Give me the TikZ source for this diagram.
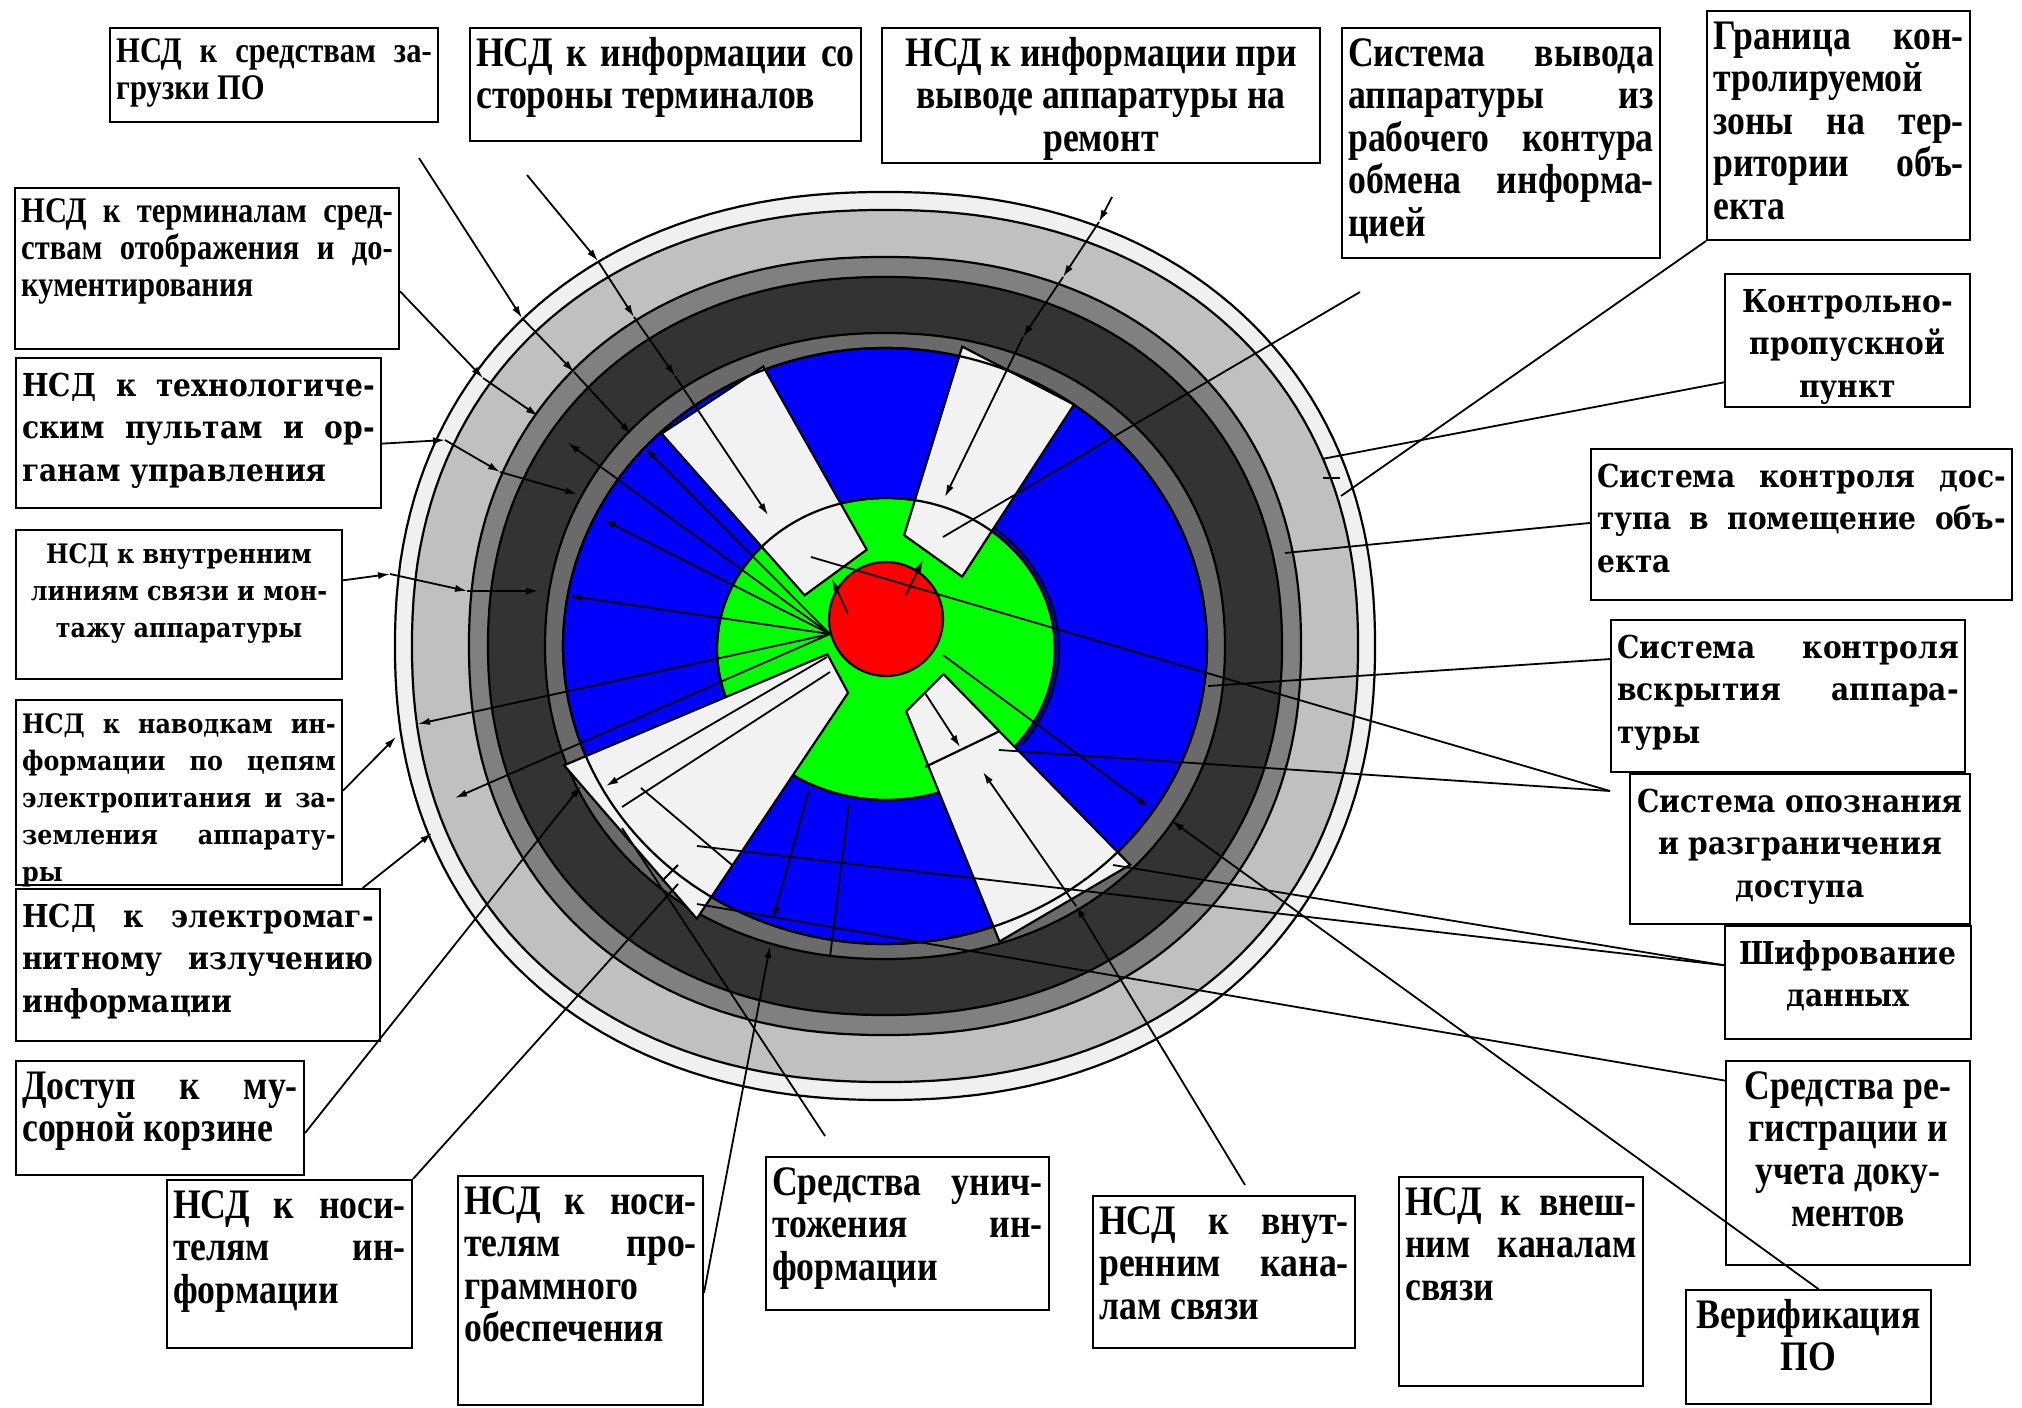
\documentclass[tikz,border=0pt]{standalone}
\usepackage{fontspec}
\setmainfont{Liberation Serif}
\newfontfamily\narrowfont{Liberation Serif}[FakeStretch=0.85]
\newfontfamily\widefont{DejaVu Serif}[FakeStretch=0.89]
\usetikzlibrary{arrows.meta,calc}
\definecolor{ringpale}{RGB}{240,240,240}
\definecolor{ringlight}{RGB}{192,192,192}
\definecolor{ringmid}{RGB}{128,128,128}
\definecolor{ringdark}{RGB}{51,51,51}
\definecolor{ringinner}{RGB}{106,106,106}
\definecolor{zoneblue}{RGB}{0,0,255}
\definecolor{zonegreen}{RGB}{0,255,0}
\definecolor{corered}{RGB}{255,0,0}
\definecolor{sectorfill}{RGB}{242,242,242}

% text sizes: narrow (Times-like) and wide serif
\newcommand{\nbig}{\narrowfont\bfseries\fontsize{21}{21.3}\selectfont}
\newcommand{\nsmall}{\narrowfont\bfseries\fontsize{18}{18.5}\selectfont}
\newcommand{\wbig}{\widefont\bfseries\fontsize{15.8}{21.3}\selectfont}
\newcommand{\wsmall}{\widefont\bfseries\fontsize{13.4}{18.4}\selectfont}
% one justified line, one centred line
\newcommand{\jl}[1]{\makebox[\linewidth][s]{#1}\\}
\newcommand{\cl}[1]{\makebox[\linewidth]{#1}\\}
% caption box: name, top-left corner, inner width, inner height, font, text
\newcommand{\infobox}[6]{\node[box] (#1) at (#2) {\parbox[c][#4][t]{#3}{#5\strut#6}};}
% closed ring outline: rx, ry, exponent, options
\newcommand{\ring}[4]{%
  \draw[ringline,#4] plot[domain=1:361, samples=181, variable=\t]
    ({885+#1*sign(cos(\t))*abs(cos(\t))^#3},
     {646+#2*sign(sin(\t))*abs(sin(\t))^#3}) -- cycle;}

\begin{document}
\begin{tikzpicture}[
  x=0.5pt, y=-0.5pt,
  box/.style={draw, line width=1.2pt, fill=white, anchor=north west,
              inner xsep=3pt, inner ysep=4pt},
  ringline/.style={draw=black, line width=1.1pt},
  sector/.style={ringline, fill=sectorfill},
  ar/.style={line width=0.9pt, -{Latex[length=6pt,width=3.6pt]}},
  ln/.style={line width=0.9pt}
]
\useasboundingbox (0,0) rectangle (2022,1407);

% rings, outside in
\ring{490}{454}{0.909}{fill=ringpale}
\ring{473}{436}{0.909}{fill=ringlight}
\ring{416}{389}{0.909}{fill=ringmid}
\ring{397}{369}{0.93}{fill=ringdark}
\ring{340}{313}{0.95}{fill=ringinner}
\ring{322}{298}{1}{fill=zoneblue}

% green zone and sectors
\filldraw[ringline, fill=zonegreen] (886,649) ellipse [x radius=169, y radius=151];
\filldraw[sector] (661.6,433.6) -- (763.2,366.5) -- (866.8,549.7) -- (804.6,595.3) -- cycle;
\filldraw[sector] (962.2,346.6) -- (1074.1,404.6) -- (962.2,576.7) -- (904.1,535.2) -- cycle;
\draw[ringline] (886,649) ellipse [x radius=169, y radius=151];
\draw[ringline] plot[domain=-51:38, samples=30, variable=\t] ({886+173*cos(\t)},{649+155*sin(\t)});
\filldraw[sector] (827.4,654.2) -- (848.1,692.8) -- (696.8,918.7) -- (564.1,765.3) -- cycle;
\filldraw[sector] (943.5,674.1) -- (1130.1,864.8) -- (999.5,941.5) -- (906.2,711.4) -- cycle;
\ring{322}{298}{1}{}
\draw[ringline] (925,767) -- (1000,731);
% core
\filldraw[ringline, fill=corered] (886,619) circle [radius=57];

% captions
\infobox{zagr}{109,27}{157.8pt}{38.8pt}{\nsmall}{\jl{НСД к средствам за-}грузки ПО}
\infobox{term}{469,27}{189.3pt}{48.3pt}{\nbig}{\jl{НСД к информации со}стороны терминалов}
\infobox{remont}{881,27}{212.8pt}{59.3pt}{\nbig\centering}{НСД к информации при\\выводе аппаратуры на\\ремонт}
\infobox{vyvod}{1341,27}{152.8pt}{106.8pt}{\nbig}{\jl{Система вывода}\jl{аппаратуры из}\jl{рабочего контура}\jl{обмена информа-}цией}
\infobox{granica}{1706,10}{125.3pt}{106.3pt}{\nbig}{\jl{Граница кон-}тролируемой\\\jl{зоны на тер-}\jl{ритории объ-}екта}
\infobox{kpp}{1724,273}{116.3pt}{58.3pt}{\wbig\centering}{Контрольно-\\пропускной\\пункт}
\infobox{dostup}{1590,448}{204.3pt}{67.3pt}{\wbig}{\jl{Система контроля дос-}\jl{тупа в помещение объ-}екта}
\infobox{vskr}{1610,619}{170.8pt}{67.8pt}{\wbig}{\jl{Система контроля}\jl{вскрытия аппара-}туры}
\infobox{opozn}{1629,773}{163.8pt}{66.8pt}{\wbig}{\cl{Система опознания}\cl{и разграничения}\cl{доступа}}
\infobox{shifr}{1724,925}{116.8pt}{48.3pt}{\wbig\centering}{Шифрование\\данных}
\infobox{regist}{1725,1060}{115.8pt}{93.8pt}{\nbig\centering}{Средства ре-\\гистрации и\\учета доку-\\ментов}
\infobox{verif}{1685,1289}{116.3pt}{48.8pt}{\nbig\centering}{Верификация\\ПО}
\infobox{vnesh}{1398,1176}{115.8pt}{96.3pt}{\nbig}{\jl{НСД к внеш-}\jl{ним каналам}связи}
\infobox{vnutk}{1092,1195}{124.8pt}{67.8pt}{\nbig}{\jl{НСД к внут-}\jl{ренним кана-}лам связи}
\infobox{unich}{765,1156}{135.3pt}{68.3pt}{\nbig}{\jl{Средства унич-}\jl{тожения ин-}формации}
\infobox{nospo}{457,1175}{116.3pt}{106.3pt}{\nbig}{\jl{НСД к носи-}\jl{телям про-}граммного\\обеспечения}
\infobox{nosinf}{166,1179}{116.3pt}{75.8pt}{\nbig}{\jl{НСД к носи-}\jl{телям ин-}формации}
\infobox{musor}{15,1060}{137.8pt}{48.8pt}{\nbig}{\jl{Доступ к му-}сорной корзине}
\infobox{navod}{15,699}{156.8pt}{84.3pt}{\wsmall}{\jl{НСД к наводкам ин-}\jl{формации по цепям}\jl{электропитания и за-}\jl{земления аппарату-}ры}
\infobox{emi}{15,888}{175.8pt}{67.8pt}{\wbig}{\jl{НСД к электромаг-}\jl{нитному излучению}информации}
\infobox{linii}{15,529}{156.8pt}{66.3pt}{\wsmall}{\cl{НСД к внутренним}\cl{линиям связи и мон-}\cl{тажу аппаратуры}}
\infobox{pult}{15,357}{176.3pt}{66.8pt}{\wbig}{\jl{НСД к технологиче-}\jl{ским пультам и ор-}ганам управления}
\infobox{otobr}{14,187}{185.8pt}{72.3pt}{\nsmall}{\jl{НСД к терминалам сред-}\jl{ствам отображения и до-}кументирования}

% free ends of the connectors
\coordinate (hub) at (830,634);
\coordinate (c1) at (419,158);
\coordinate (c2) at (527,175);
\coordinate (c3) at (1112,197);
\coordinate (c4) at (1360,292);
\coordinate (c9) at (1610,791);
\coordinate (c14) at (1245,1185);
\coordinate (c15) at (825,1136);

% arrows from the core outwards
\foreach \p in {(645,448),(568,443),(604,520),(570,596),(418,724),(455,798)}
  \draw[ar] (hub) -- \p;
\draw[ar] (848,614) -- (832,579);
\draw[ar] (906,595) -- (923,560);
\draw[ar] (925,693) -- (960,747);
\draw[ar] (809,790) -- (773,919);
\draw[ar] (943,655) -- (1149,807);
\draw[ar] (827,657) -- (606,786);
\draw[ln] (849,804) -- (830,957);
\draw[ln] (830,672) -- (622,807);
\draw[ln] (641,788) -- (732,865);

% threats from the left and top, arrowhead at every layer
\draw[ar] (c1) -- (522,318);
\draw[ar] (522,318) -- (574,372);
\draw[ar] (574,372) -- (631,434);
\draw[ar] (c2) -- (598,261);
\draw[ar] (598,261) -- (634,317);
\draw[ar] (634,317) -- (675,376);
\draw[ar] (675,376) -- (768,515);
\draw[ar] (c3) -- (1099,222);
\draw[ar] (1099,222) -- (1063,277);
\draw[ar] (1063,277) -- (1023,337);
\draw[ar] (1023,337) -- (945,497);
\draw[ar] ($(otobr.north east)!0.64!(otobr.south east)$) -- (483,378);
\draw[ar] (483,378) -- (538,416);
\draw[ar] ($(pult.north east)!0.57!(pult.south east)$) -- (445,440);
\draw[ar] (445,440) -- (500,472);
\draw[ar] (500,472) -- (577,494);
\draw[ar] ($(linii.north east)!0.34!(linii.south east)$) -- (390,574);
\draw[ar] (390,574) -- (467,591);
\draw[ar] (467,591) -- (538,591);
\draw[ar] ($(navod.north east)!0.49!(navod.south east)$) -- (396,737);
\draw[ar] ($(emi.north west)!0.95!(emi.north east)$) -- (432,833);
\draw[ar] ($(musor.north east)!0.63!(musor.south east)$) -- (581,786);
\draw[ln] (nosinf.north east) -- (678,884);
\draw[ln] (662,881) -- (678,865);
\draw[ar] ($(nospo.north east)!0.51!(nospo.south east)$) -- (770,946);
\draw[ln] (c15) -- (622,828);
\draw[ar] (c14) -- (1076,906);
\draw[ar] (1076,906) -- (983,772);

% protection means on the right
\draw[ln] (c4) -- (943,537);
\draw[ln] (granica.south west) -- (1341,496);
\draw[ln] ($(kpp.north west)!0.81!(kpp.south west)$) -- (1322,459);
\draw[ln] (1323,478) -- (1340,478);
\draw[ln] ($(dostup.north west)!0.49!(dostup.south west)$) -- (1285,553);
\draw[ln] ($(vskr.north west)!0.26!(vskr.south west)$) -- (1208,686);
\draw[ln] (c9) -- (811,557);
\draw[ln] (c9) -- (999,750);
\draw[ln] ($(shifr.north west)!0.35!(shifr.south west)$) -- (1113,865);
\draw[ln] ($(shifr.north west)!0.35!(shifr.south west)$) -- (697,846);
\draw[ln] ($(regist.north west)!0.10!(regist.south west)$) -- (697,904);
\draw[ar] ($(verif.north west)!0.54!(verif.north east)$) -- (1172,821);
\end{tikzpicture}
\end{document}
